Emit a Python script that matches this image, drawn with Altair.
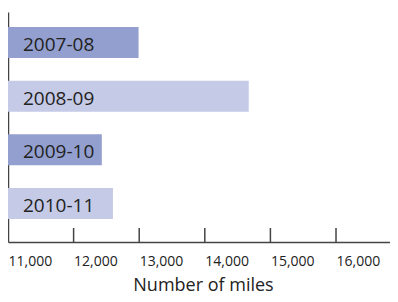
import altair as alt
import pandas as pd

seasons = ["2007-08", "2008-09", "2009-10", "2010-11"]
miles = [12990, 14670, 12430, 12600]
shade = ["dark", "light", "dark", "light"]
tick_values = [12000, 13000, 14000, 15000, 16000]
label_values = [11000, 12000, 13000, 14000, 15000, 16000]

df = pd.DataFrame({"season": seasons, "miles": miles, "shade": shade})
ticks_df = pd.DataFrame({"t": tick_values})

FONT = "Open Sans"
xscale = alt.Scale(domain=[11000, 16823], nice=False, zero=False)
yscale = alt.Scale(paddingInner=0.4224, paddingOuter=0.354, align=0.395)

bars = alt.Chart(df).mark_bar().encode(
    x=alt.X("miles:Q", scale=xscale,
            axis=alt.Axis(title="Number of miles", values=label_values, format=",d",
                          ticks=False, tickSize=0, labelAlign="left",
                          labelBaseline="alphabetic", labelPadding=23,
                          labelFontSize=14, labelFont=FONT, labelColor="#222",
                          titleFont=FONT, titleFontSize=18, titleFontWeight="normal",
                          titleColor="#222", titleBaseline="alphabetic", titleY=48,
                          titleX=195, titleAnchor="middle", titleAlign="center",
                          grid=False, domainColor="#444", domainWidth=1.5,
                          labelFlush=False, labelOverlap=False)),
    x2=alt.datum(11000),
    y=alt.Y("season:N", sort=seasons, scale=yscale,
            axis=alt.Axis(title=None, labels=False, ticks=False, domainColor="#444",
                          domainWidth=1.5, grid=False)),
    color=alt.Color("shade:N", scale=alt.Scale(domain=["dark", "light"],
                                               range=["#929fcf", "#c5cae7"]), legend=None),
)

labels = alt.Chart(df).mark_text(align="left", baseline="alphabetic", font=FONT,
                                 fontSize=19, color="#222", dy=8.5).encode(
    x=alt.value(15),
    y=alt.Y("season:N", sort=seasons, scale=yscale, bandPosition=0.5),
    text="season:N",
)

tickmarks = alt.Chart(ticks_df).mark_rule(color="#444", strokeWidth=1.5).encode(
    x=alt.X("t:Q", scale=xscale),
    y=alt.value(216),
    y2=alt.value(230),
)

chart = alt.layer(bars, labels, tickmarks).properties(
    width=382, height=230,
    padding={"left": 0, "top": 4, "right": 0, "bottom": 52},
    autosize=alt.AutoSizeParams(type="none"),
).configure_view(stroke=None)

chart.save("out.html", embed_options={"renderer": "svg", "actions": False})
